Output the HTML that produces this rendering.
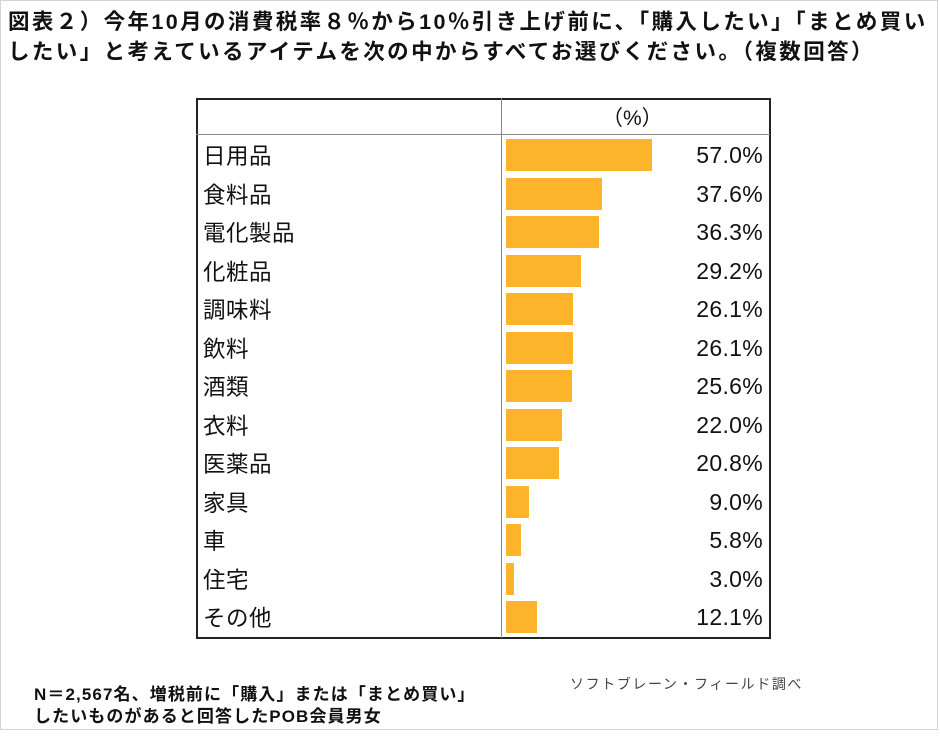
<!DOCTYPE html>
<html><head><meta charset="utf-8"><style>
body{margin:0;background:#fff;}
#c{position:relative;width:940px;height:740px;overflow:hidden;font-family:"Liberation Sans","Noto Sans CJK JP",sans-serif;}
#frame{position:absolute;left:0;top:0;width:936px;height:728px;border:1px solid #d4d4d4;}
.t{position:absolute;left:8px;font-size:21.5px;font-weight:bold;color:#111;white-space:nowrap;letter-spacing:2.4px;line-height:26px}
#tbl{position:absolute;left:196px;top:98px;width:571px;height:537px;border:2px solid #222;}
#vd{position:absolute;left:501px;top:98px;width:1px;height:540px;background:#888;}
#hd{position:absolute;left:196px;top:134px;width:574px;height:1px;background:#888;}
.lab{position:absolute;left:203px;font-size:22.5px;color:#111;white-space:nowrap;height:32px;line-height:32px;letter-spacing:0.5px}
.val{position:absolute;right:177px;font-size:23px;color:#111;white-space:nowrap;height:32px;line-height:32px;letter-spacing:0.3px}
.bar{position:absolute;left:506px;height:32px;background:#fdb42b;}
.f{position:absolute;left:34px;font-size:17px;font-weight:bold;color:#111;white-space:nowrap;letter-spacing:1.1px;line-height:22px}
</style></head><body><div id="c">
<div id="frame"></div>
<div class="t" style="top:9px">図表２）今年10月の消費税率８％から10％引き上げ前に、「購入したい」「まとめ買い</div>
<div class="t" style="top:39px">したい」と考えているアイテムを次の中からすべてお選びください。（複数回答）</div>
<div id="tbl"></div><div id="vd"></div><div id="hd"></div>
<div style="position:absolute;left:602px;top:102px;font-size:21px;color:#111">（%）</div>
<div id="rows"></div>
<div style="position:absolute;left:570px;top:674px;font-size:14px;color:#444;white-space:nowrap;letter-spacing:1.6px">ソフトブレーン・フィールド調べ</div>
<div class="f" style="top:684px">N＝2,567名、増税前に「購入」または「まとめ買い」</div>
<div class="f" style="top:706px">したいものがあると回答したPOB会員男女</div>
<script>
var d=[["日用品",57.0],["食料品",37.6],["電化製品",36.3],["化粧品",29.2],["調味料",26.1],["飲料",26.1],["酒類",25.6],["衣料",22.0],["医薬品",20.8],["家具",9.0],["車",5.8],["住宅",3.0],["その他",12.1]];
var h="";d.forEach(function(r,i){var cy=155+i*38.5;
h+='<div class="bar" style="top:'+(cy-16)+'px;width:'+(r[1]*2.56)+'px"></div>';
h+='<div class="lab" style="top:'+(cy-14)+'px">'+r[0]+'</div>';
h+='<div class="val" style="top:'+(cy-16)+'px">'+r[1].toFixed(1)+'%</div>';});
document.getElementById("rows").innerHTML=h;
</script>
</div></body></html>
